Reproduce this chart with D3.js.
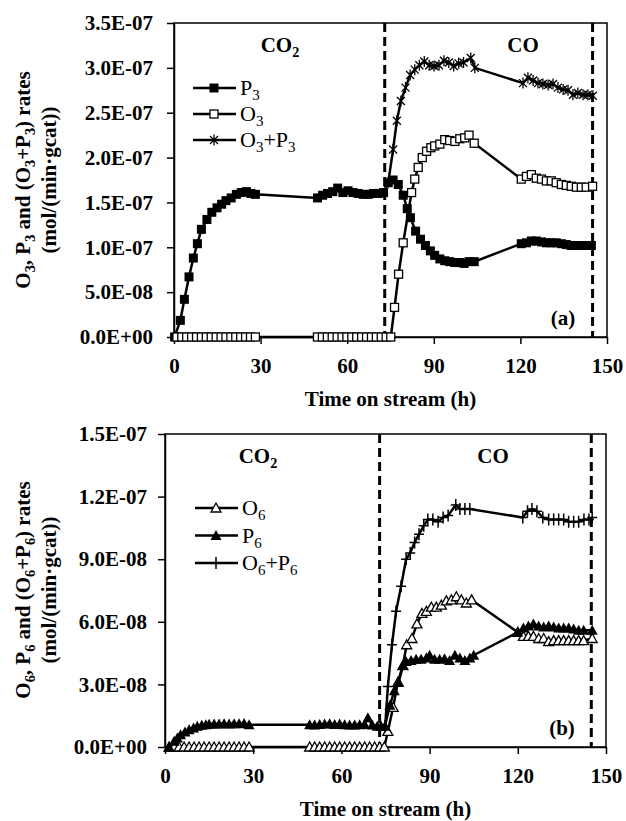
<!DOCTYPE html>
<html>
<head>
<meta charset="utf-8">
<script src="https://cdn.jsdelivr.net/npm/d3@7"></script>
<style>
  body { margin: 0; background: #fff; }
  svg text { font-family: "Liberation Serif", "Times New Roman", serif; fill: #000; }
  .tick text { font-size: 21px; font-weight: bold; }
  .tick line, .domain { stroke: #000; stroke-width: 1.5; }
  .bold { font-weight: bold; font-size: 21px; }
  .leg { font-size: 22px; }
</style>
</head>
<body>
<div id="chart"></div>
<script>
// values in units of 1E-08 mol/(min.gcat), time in h

// panel (a)
const p3 = [[0.2,0],[2.2,1.85],[3.6,4.2],[5.2,6.7],[6.7,8.8],[8.1,10.4],[9.5,12.0],[11.4,13.1],[13.1,13.9],[14.9,14.4],[16.5,14.8],[18.0,15.2],[19.8,15.5],[21.6,15.9],[23.3,16.1],[25.1,16.2],[26.6,16.0],[28.2,15.9],
  [49.7,15.5],[51.5,15.8],[53.2,16.0],[55.0,16.2],[56.7,16.6],[58.5,16.1],[60.3,16.3],[62.0,16.1],[63.8,16.0],[65.6,15.9],[67.3,15.9],[69.1,16.0],[70.8,16.0],[72.6,16.1],
  [74.2,17.2],[75.9,17.5],[77.7,17.0],[79.4,15.8],[80.8,14.3],[81.9,13.3],[83.7,11.8],[85.4,10.9],[87.1,10.2],[88.8,9.6],[90.3,9.1],[92.1,8.7],[93.8,8.5],[95.5,8.4],[97.3,8.3],[99.0,8.3],[100.5,8.2],[102.2,8.4],[104.0,8.4],
  [120.3,10.4],[122.1,10.5],[123.8,10.7],[125.5,10.7],[127.3,10.6],[129.0,10.5],[130.7,10.5],[132.4,10.5],[134.2,10.4],[135.9,10.3],[137.6,10.2],[139.4,10.2],[141.1,10.2],[142.8,10.2],[144.6,10.2]]
const o3 = [[1.0,0],[2.7,0],[4.4,0],[6.1,0],[7.8,0],[9.5,0],[11.2,0],[12.9,0],[14.6,0],[16.3,0],[18.0,0],[19.7,0],[21.4,0],[23.1,0],[24.8,0],[26.5,0],[28.2,0],
  [49.7,0],[51.4,0],[53.1,0],[54.8,0],[56.5,0],[58.2,0],[59.9,0],[61.6,0],[63.3,0],[65.0,0],[66.7,0],[68.4,0],[70.1,0],[71.8,0],[73.5,0],[75.1,0],
  [76.4,3.3],[77.8,7.0],[79.4,10.5],[82.3,16.1],[83.4,17.6],[84.6,18.9],[86.0,20.0],[87.5,20.7],[89.0,21.1],[90.3,21.3],[92.1,21.5],[93.8,22.0],[95.5,21.9],[97.3,21.8],[99.0,22.1],[100.7,22.2],[102.2,22.5],[104.0,21.6],
  [120.3,17.6],[122.1,17.9],[123.8,18.1],[125.5,17.7],[127.3,17.6],[129.0,17.4],[130.7,17.4],[132.4,17.2],[134.2,17.0],[135.9,16.9],[137.6,16.8],[139.4,16.7],[141.1,16.7],[142.8,16.7],[145.0,16.8]]
const o3p3 = [[74.2,17.2],[75.9,20.9],[77.2,24.1],[78.6,26.3],[80.2,27.8],[81.8,29.2],[83.4,29.8],[85.0,30.3],[86.7,30.7],[88.4,30.3],[90.1,30.2],[91.8,30.3],[93.5,30.8],[95.2,30.6],[96.9,30.2],[98.6,30.5],[100.3,30.6],[102.8,31.1],[104.2,30.0],
  [120.9,28.3],[122.6,28.9],[124.4,28.6],[126.1,28.3],[127.8,28.2],[129.6,28.1],[131.3,28.2],[133.0,27.8],[134.8,27.6],[136.5,27.5],[138.2,27.0],[139.9,27.2],[141.7,27.0],[143.4,27.0],[145.1,26.9]]

// panel (b)
const o6 = [[1.4,0],[3.1,0],[4.8,0],[6.5,0],[8.2,0],[9.9,0],[11.6,0],[13.3,0],[15.0,0],[16.7,0],[18.4,0],[20.1,0],[21.8,0],[23.5,0],[25.2,0],[26.9,0],[28.6,0],
  [49.2,0],[50.9,0],[52.6,0],[54.3,0],[56.0,0],[57.7,0],[59.4,0],[61.1,0],[62.8,0],[64.5,0],[66.2,0],[67.9,0],[69.6,0],[71.3,0],[73.0,0],[74.6,0],
  [75.8,0.75],[77.6,1.9],[79.2,3.1],[80.9,3.9],[82.2,4.9],[84.0,5.2],[85.7,5.9],[87.4,6.4],[88.9,6.5],[90.6,6.7],[92.3,6.7],[94.0,6.8],[95.7,7.0],[97.4,7.05],[99.1,7.2],[100.8,7.05],[102.5,6.9],[104.3,7.05],
  [120.0,5.5],[121.9,5.3],[123.6,5.3],[125.3,5.3],[127.1,5.2],[128.8,5.2],[130.5,5.05],[132.2,5.1],[133.9,5.1],[135.6,5.1],[137.3,5.1],[139.0,5.1],[140.7,5.1],[142.4,5.1],[145.3,5.2]]
const p6 = [[1.4,0],[3.1,0.27],[4.2,0.43],[5.3,0.59],[6.8,0.72],[8.2,0.83],[9.7,0.91],[11.0,0.99],[12.5,1.04],[13.9,1.07],[15.0,1.09],[16.7,1.10],[18.4,1.10],[20.1,1.11],[21.8,1.10],[23.5,1.11],[25.2,1.12],[26.9,1.13],[28.6,1.07],
  [49.2,1.07],[50.9,1.05],[52.6,1.08],[54.3,1.10],[56.0,1.12],[57.7,1.08],[59.4,1.10],[61.1,1.07],[62.8,1.06],[64.5,1.05],[66.2,1.07],[67.9,1.08],[69.0,1.40],[70.5,1.05],[72.2,1.00],[73.5,0.99],[74.8,1.00],
  [76.5,2.0],[78.0,2.7],[79.5,3.1],[80.9,3.9],[82.0,4.1],[83.7,4.15],[85.4,4.2],[87.1,4.2],[88.9,4.26],[90.0,4.4],[91.7,4.2],[93.4,4.2],[95.1,4.23],[96.8,4.15],[98.6,4.4],[100.3,4.26],[102.0,4.15],[103.7,4.26],[105.0,4.4],
  [120.0,5.5],[121.9,5.7],[123.6,5.8],[125.3,5.9],[127.1,5.8],[128.8,5.75],[130.5,5.8],[132.2,5.75],[133.9,5.7],[135.6,5.7],[137.3,5.7],[139.0,5.65],[140.7,5.6],[142.4,5.6],[145.3,5.6]]
const o6p6 = [[74.9,1.0],[75.8,2.9],[77.2,4.9],[78.6,6.5],[80.3,7.7],[82.0,9.0],[83.4,9.3],[84.9,9.8],[86.4,10.2],[88.0,10.6],[89.4,10.9],[91.1,10.9],[92.9,10.8],[94.6,11.0],[96.3,11.1],[98.9,11.6],[100.3,11.4],[102.0,11.4],[103.7,11.4],
  [121.7,11.0],[123.3,11.3],[124.8,11.4],[126.5,11.3],[128.5,11.0],[130.5,10.9],[132.2,10.9],[133.9,10.9],[135.6,10.9],[137.3,10.8],[139.0,10.8],[140.7,10.8],[142.5,10.9],[144.2,10.9],[145.3,11.0]]

const xTicks = [0, 30, 60, 90, 120, 150]
const yTicksA = [0, 5, 10, 15, 20, 25, 30, 35]
const yTicksB = [0, 3, 6, 9, 12, 15]
const switchTimes = [73, 145]

const W = 626, H = 821
const svg = d3.select("#chart").append("svg")
  .attr("width", W).attr("height", H)

const fmtE = (v) => {
  const [m, e] = (v * 1e-8).toExponential(1).split("e")
  return m + "E" + e[0] + e.slice(1).padStart(2, "0")
}

// marker shapes
const markers = {
  sqFill: (g) => g.append("rect").attr("x", -4.5).attr("y", -4.5).attr("width", 9).attr("height", 9).attr("fill", "#000"),
  sqOpen: (g) => g.append("rect").attr("x", -4).attr("y", -4).attr("width", 8).attr("height", 8)
    .attr("fill", "#fff").attr("stroke", "#000").attr("stroke-width", 1.3),
  star: (g) => g.append("path").attr("d", "M-4,-4L4,4M-4,4L4,-4M0,-5.5L0,5.5")
    .attr("stroke", "#000").attr("stroke-width", 1.3).attr("fill", "none"),
  triOpen: (g) => g.append("path").attr("d", "M0,-5L5,4L-5,4Z")
    .attr("fill", "#fff").attr("stroke", "#000").attr("stroke-width", 1.3),
  triFill: (g) => g.append("path").attr("d", "M0,-5.5L5.5,4.5L-5.5,4.5Z").attr("fill", "#000"),
  plus: (g) => g.append("path").attr("d", "M-5,0L5,0M0,-6L0,6")
    .attr("stroke", "#000").attr("stroke-width", 1.5).attr("fill", "none")
}

// text with subscripts, parts like ["O", ["3"], "+P", ["3"]]
const SUB = 5
const rich = (t, parts) => {
  let down = false
  parts.forEach((p) => {
    const sub = Array.isArray(p)
    const ts = t.append("tspan").text(sub ? p[0] : p)
    if (sub) ts.attr("font-size", "0.68em")
    if (sub && !down) ts.attr("dy", SUB)
    if (!sub && down) ts.attr("dy", -SUB)
    down = sub
  })
  return t
}

const drawPanel = (cfg) => {
  const x = d3.scaleLinear().domain([0, 150]).range([cfg.left, cfg.right]),
        y = d3.scaleLinear().domain([0, cfg.yMax]).range([cfg.bottom, cfg.top])
  const g = svg.append("g")

  g.append("g")
    .attr("transform", `translate(0, ${cfg.bottom})`)
    .call(d3.axisBottom(x).tickValues(xTicks).tickSizeInner(7).tickSizeOuter(0).tickPadding(14))
  g.append("g")
    .attr("transform", `translate(${cfg.left}, 0)`)
    .call(d3.axisLeft(y).tickValues(cfg.yTicks).tickFormat(fmtE).tickSizeInner(7).tickSizeOuter(0).tickPadding(cfg.yPad))

  // box
  g.append("rect")
    .attr("x", cfg.left).attr("y", cfg.top)
    .attr("width", cfg.right - cfg.left).attr("height", cfg.bottom - cfg.top)
    .attr("fill", "none").attr("stroke", "#000").attr("stroke-width", 1.5)

  // feed switch lines
  switchTimes.forEach((t) => {
    g.append("line")
      .attr("x1", x(t)).attr("x2", x(t))
      .attr("y1", cfg.top).attr("y2", cfg.bottom)
      .attr("stroke", "#000").attr("stroke-width", 3).attr("stroke-dasharray", "9,5")
  })

  const line = d3.line().x((d) => x(d[0])).y((d) => y(d[1]))
  cfg.series.forEach((s) => {
    g.append("path").datum(s.data)
      .attr("d", line)
      .attr("fill", "none").attr("stroke", "#000").attr("stroke-width", 2.5)
    s.data.forEach((d) => {
      markers[s.marker](g.append("g").attr("transform", `translate(${x(d[0])}, ${y(d[1])})`))
    })
  })

  // legend
  cfg.series.forEach((s, i) => {
    const ly = cfg.legY + i * cfg.legStep
    g.append("line").attr("x1", cfg.legX).attr("x2", cfg.legX + 43)
      .attr("y1", ly).attr("y2", ly).attr("stroke", "#000").attr("stroke-width", 2.5)
    markers[s.marker](g.append("g").attr("transform", `translate(${cfg.legX + 21}, ${ly})`))
    rich(g.append("text").attr("class", "leg").attr("x", cfg.legX + 47).attr("y", ly + 7), s.label)
  })

  // region labels
  rich(g.append("text").attr("class", "bold").attr("x", cfg.co2X).attr("y", cfg.top + 29)
    .attr("text-anchor", "middle"), ["CO", ["2"]])
  g.append("text").attr("class", "bold").attr("x", cfg.coX).attr("y", cfg.top + 29)
    .attr("text-anchor", "middle").text("CO")
  g.append("text").attr("class", "bold").attr("x", cfg.right - 44).attr("y", cfg.bottom - 12)
    .attr("text-anchor", "middle").text(cfg.tag)

  // axis titles
  g.append("text").attr("class", "bold")
    .attr("x", (cfg.left + cfg.right) / 2).attr("y", cfg.bottom + 69)
    .attr("text-anchor", "middle").text("Time on stream (h)")
  const cy = cfg.yTitleY
  rich(g.append("text").attr("class", "bold").attr("text-anchor", "middle")
    .attr("transform", `translate(30, ${cy}) rotate(-90)`), cfg.yTitle)
  g.append("text").attr("class", "bold").attr("text-anchor", "middle")
    .attr("transform", `translate(56, ${cy}) rotate(-90)`).text("(mol/(min\u00b7gcat))")
}

drawPanel({
  left: 174, right: 607, top: 23, bottom: 337, yMax: 35, yTicks: yTicksA, yPad: 14,
  legX: 193, legY: 88, legStep: 26, co2X: 280, coX: 523, tag: "(a)", yTitleY: 180,
  yTitle: ["O", ["3"], ", P", ["3"], " and (O", ["3"], "+P", ["3"], ") rates"],
  series: [
    {data: p3, marker: "sqFill", label: ["P", ["3"]]},
    {data: o3, marker: "sqOpen", label: ["O", ["3"]]},
    {data: o3p3, marker: "star", label: ["O", ["3"], "+P", ["3"]]}
  ]
})

drawPanel({
  left: 165, right: 606, top: 434, bottom: 747, yMax: 15, yTicks: yTicksB, yPad: 11,
  legX: 195, legY: 508, legStep: 27.5, co2X: 258, coX: 493, tag: "(b)", yTitleY: 590,
  yTitle: ["O", ["6"], ", P", ["6"], " and (O", ["6"], "+P", ["6"], ") rates"],
  series: [
    {data: o6, marker: "triOpen", label: ["O", ["6"]]},
    {data: p6, marker: "triFill", label: ["P", ["6"]]},
    {data: o6p6, marker: "plus", label: ["O", ["6"], "+P", ["6"]]}
  ]
})
</script>
</body>
</html>
